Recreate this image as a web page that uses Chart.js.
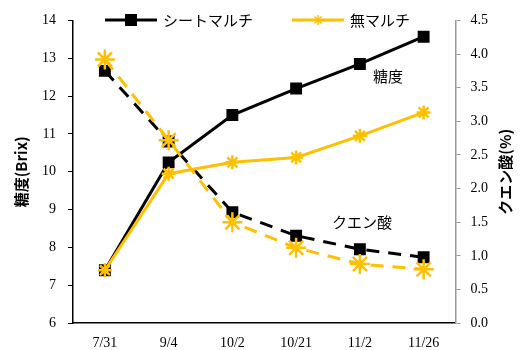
<!DOCTYPE html>
<html>
<head>
<meta charset="utf-8">
<script src="https://cdn.jsdelivr.net/npm/chart.js@4"></script>
<style>
  html, body { margin: 0; padding: 0; background: #fff; }
  #wrap { width: 525px; height: 350px; position: relative; }
</style>
</head>
<body>
<div id="wrap"><canvas id="chart" width="525" height="350"></canvas></div>
<script>
// ======================
// DATA
// ======================
const dates = ['7/31', '9/4', '10/2', '10/21', '11/2', '11/26'];

const sugarSheet = [7.4, 10.25, 11.5, 12.2, 12.85, 13.57];
const sugarNone = [7.4, 9.95, 10.25, 10.38, 10.95, 11.57];

const acidSheet = [3.75, 2.7, 1.65, 1.3, 1.1, 0.98];
const acidNone = [3.92, 2.72, 1.5, 1.12, 0.88, 0.8];

const BLACK = '#000000';
const GOLD = '#FFC000';
const tickFont = { family: '"Liberation Serif", "Times New Roman", serif', size: 14 };
const jpFont = '"Noto Sans CJK JP", sans-serif';

// ======================
// MARKERS
// ======================
function drawStar(ctx, x, y, r) {
  ctx.beginPath();
  for (let i = 0; i < 4; i++) {
    const a = i * Math.PI / 4;
    ctx.moveTo(x - Math.cos(a) * r, y - Math.sin(a) * r);
    ctx.lineTo(x + Math.cos(a) * r, y + Math.sin(a) * r);
  }
  ctx.stroke();
}

// ======================
// LEGEND + LABELS (drawn on canvas)
// ======================
const extrasPlugin = {
  id: 'extras',
  afterDraw(chart) {
    const ctx = chart.ctx;
    const area = chart.chartArea;
    ctx.save();

    // legend
    const items = [
      { text: 'シートマルチ', color: BLACK, style: 'rect', x: 105 },
      { text: '無マルチ', color: GOLD, style: 'star', x: 292 }
    ];
    const ly = 20;
    items.forEach(it => {
      ctx.strokeStyle = it.color;
      ctx.fillStyle = it.color;
      ctx.lineWidth = 3;
      ctx.setLineDash([]);
      ctx.beginPath();
      ctx.moveTo(it.x, ly);
      ctx.lineTo(it.x + 52, ly);
      ctx.stroke();
      if (it.style === 'rect') {
        ctx.fillRect(it.x + 20, ly - 6, 12, 12);
      } else {
        ctx.lineWidth = 1.5;
        drawStar(ctx, it.x + 26, ly, 5);
      }
      ctx.fillStyle = BLACK;
      ctx.font = '15px ' + jpFont;
      ctx.textBaseline = 'middle';
      ctx.textAlign = 'left';
      ctx.fillText(it.text, it.x + 58, ly);
    });

    // series labels
    ctx.fillStyle = BLACK;
    ctx.font = '15px ' + jpFont;
    ctx.textAlign = 'center';
    ctx.fillText('糖度', 388, 76);
    ctx.fillText('クエン酸', 362, 222);

    // right axis title (reads bottom to top)
    const midY = (area.top + area.bottom) / 2;
    ctx.font = 'bold 15px ' + jpFont;
    ctx.translate(505, midY);
    ctx.rotate(-Math.PI / 2);
    ctx.fillText('クエン酸(%)', 0, 0);
    ctx.restore();
  }
};

// ======================
// CHART
// ======================
const canvas = document.getElementById('chart');

const lineBase = {
  borderWidth: 3,
  pointBorderWidth: 2,
  tension: 0
};

new Chart(canvas, {
  type: 'line',

  data: {
    labels: dates,
    datasets: [
      {
        ...lineBase,
        label: 'シートマルチ 糖度',
        data: sugarSheet,
        yAxisID: 'y',
        borderColor: BLACK,
        backgroundColor: BLACK,
        pointStyle: 'rect',
        pointRadius: 7,
        order: 4
      },
      {
        ...lineBase,
        label: 'シートマルチ クエン酸',
        data: acidSheet,
        yAxisID: 'y1',
        borderColor: BLACK,
        backgroundColor: BLACK,
        borderDash: [13, 9],
        pointStyle: 'rect',
        pointRadius: 7,
        order: 3
      },
      {
        ...lineBase,
        label: '無マルチ 糖度',
        data: sugarNone,
        yAxisID: 'y',
        borderColor: GOLD,
        backgroundColor: GOLD,
        pointStyle: 'star',
        pointRadius: 7,
        pointBorderWidth: 2.5,
        order: 2
      },
      {
        ...lineBase,
        label: '無マルチ クエン酸',
        data: acidNone,
        yAxisID: 'y1',
        borderColor: GOLD,
        backgroundColor: GOLD,
        borderDash: [13, 9],
        pointStyle: 'star',
        pointRadius: 10,
        pointBorderWidth: 2.5,
        order: 1
      }
    ]
  },

  options: {
    responsive: false,
    animation: false,
    layout: { padding: { top: 12, right: 27, bottom: -14, left: 12 } },

    plugins: {
      legend: { display: false },
      tooltip: { enabled: false }
    },

    scales: {
      x: {
        offset: true,
        grid: { display: false, drawTicks: false },
        border: { color: BLACK, width: 1.5 },
        ticks: { color: BLACK, font: tickFont, padding: 12, maxRotation: 0 }
      },
      y: {
        position: 'left',
        min: 6,
        max: 14,
        ticks: { stepSize: 1, color: BLACK, font: tickFont, padding: 12 },
        grid: { drawOnChartArea: false, drawTicks: true, tickLength: 5, color: BLACK },
        border: { color: BLACK, width: 1.5 },
        title: {
          display: true,
          text: '糖度(Brix)',
          color: BLACK,
          font: { family: jpFont, size: 15, weight: 'bold' },
          padding: 0
        }
      },
      y1: {
        position: 'right',
        min: 0,
        max: 4.5,
        ticks: {
          stepSize: 0.5, color: BLACK, font: tickFont, padding: 10,
          callback: v => Number(v).toFixed(1)
        },
        grid: { drawOnChartArea: false, drawTicks: true, tickLength: 5, color: '#999999' },
        border: { color: '#999999', width: 1.5 }
      }
    }
  },

  plugins: [extrasPlugin]
});
</script>
</body>
</html>
